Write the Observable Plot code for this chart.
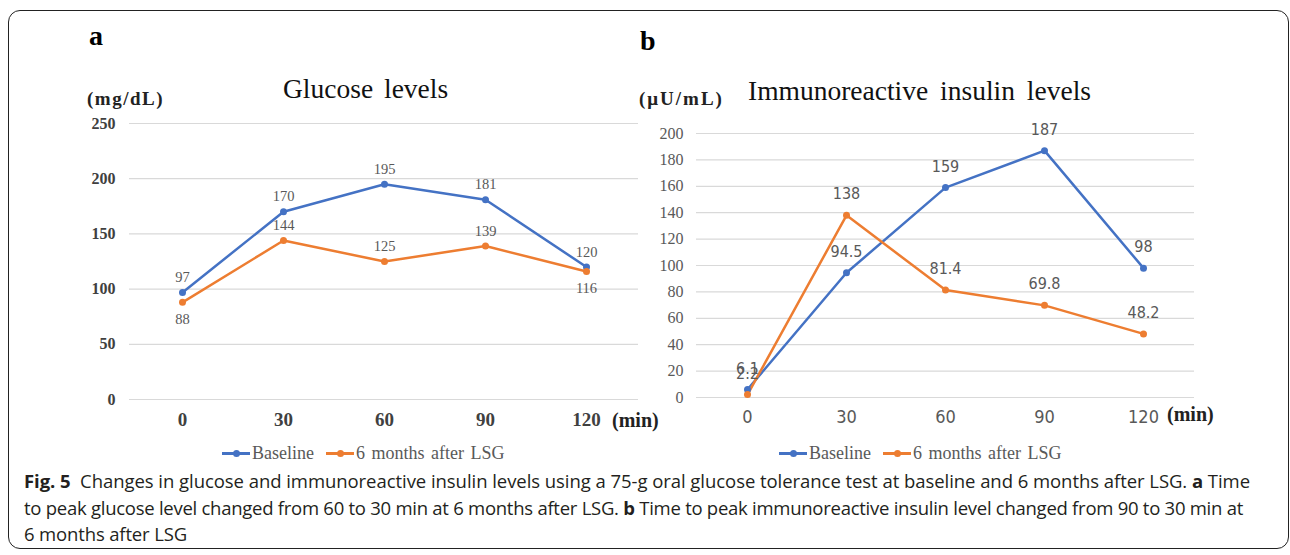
<!DOCTYPE html>
<html>
<head>
<meta charset="utf-8">
<script src="https://cdn.jsdelivr.net/npm/d3@7"></script>
<script src="https://cdn.jsdelivr.net/npm/@observablehq/plot@0.6"></script>
<style>
  body { margin:0; background:#fff; }
  #root { position:relative; width:1290px; height:555px; overflow:hidden; background:#fff; }
  .abs { position:absolute; white-space:nowrap; }
  .serif { font-family:"Liberation Serif","Times New Roman",serif; }
  .legend { display:flex; align-items:center; font-family:"Liberation Serif",serif; font-size:18px; color:#595959; }
  .sw { position:relative; display:inline-block; width:28px; height:3px; margin-right:2px; }
  .sw span { position:absolute; left:11px; top:-2px; width:7px; height:7px; border-radius:50%; }
  .cap { font-family:"Open Sans","Noto Sans",sans-serif; font-size:18.5px; color:#231f20; left:24px; line-height:24px; }
</style>
</head>
<body>
<div id="root">
  <div class="abs" style="left:8px;top:10px;width:1279px;height:537px;border:1.5px solid #222;border-radius:12px;"></div>
  <div class="abs serif" style="left:89px;top:20px;font-size:28px;font-weight:bold;">a</div>
  <div class="abs serif" style="left:640px;top:25px;font-size:28px;font-weight:bold;">b</div>
  <div class="abs serif" style="left:283px;top:73px;font-size:27.5px;word-spacing:4px;color:#111;">Glucose levels</div>
  <div class="abs serif" style="left:748px;top:75px;font-size:27.5px;word-spacing:5px;color:#111;">Immunoreactive insulin levels</div>
  <div class="abs serif" style="left:87px;top:88px;font-size:19px;font-weight:bold;letter-spacing:1.5px;color:#222;">(mg/dL)</div>
  <div class="abs serif" style="left:639px;top:88px;font-size:19px;font-weight:bold;letter-spacing:2px;color:#222;">(μU/mL)</div>
  <div class="abs serif" style="left:612px;top:409px;font-size:20px;font-weight:bold;color:#222;">(min)</div>
  <div class="abs serif" style="left:1167px;top:403px;font-size:20px;font-weight:bold;color:#222;">(min)</div>
  <div id="plotA" class="abs" style="left:0;top:100px;"></div>
  <div id="plotB" class="abs" style="left:640px;top:100px;"></div>
  <div id="legA" class="abs legend" style="left:222px;top:443px;"></div>
  <div id="legB" class="abs legend" style="left:779px;top:443px;"></div>
  <div class="abs cap" data-w="1226" style="top:469px;"><b>Fig. 5</b>&nbsp; Changes in glucose and immunoreactive insulin levels using a 75-g oral glucose tolerance test at baseline and 6 months after LSG. <b>a</b> Time</div>
  <div class="abs cap" data-w="1219" style="top:496px;">to peak glucose level changed from 60 to 30 min at 6 months after LSG. <b>b</b> Time to peak immunoreactive insulin level changed from 90 to 30 min at</div>
  <div class="abs cap" data-w="163" style="top:522px;">6 months after LSG</div>
</div>
<script>
const minutes = [0, 30, 60, 90, 120];
const seriesNames = ["Baseline", "6 months after LSG"];
const seriesColors = ["#4472C4", "#ED7D31"];
const glucoseBaseline = [97, 170, 195, 181, 120];
const glucoseAfter = [88, 144, 125, 139, 116];
const insulinBaseline = [6.1, 94.5, 159, 187, 98];
const insulinAfter = [2.2, 138, 81.4, 69.8, 48.2];
const glucoseTicks = [0, 50, 100, 150, 200, 250];
const insulinTicks = [0, 20, 40, 60, 80, 100, 120, 140, 160, 180, 200];

function rows(base, after) {
  return [
    ...minutes.map((m, i) => ({minute: m, value: base[i], series: seriesNames[0], i})),
    ...minutes.map((m, i) => ({minute: m, value: after[i], series: seriesNames[1], i}))
  ];
}
const serif = "Liberation Serif, Times New Roman, serif";
const sansNarrow = "Liberation Sans Narrow, DejaVu Sans Condensed, sans-serif";

// Panel a
const dataA = rows(glucoseBaseline, glucoseAfter);
const belowA = d => d.series === seriesNames[1] && (d.i === 0 || d.i === 4);
const plotA = Plot.plot({
  width: 665, height: 340,
  marginLeft: 129, marginRight: 27, marginTop: 23, marginBottom: 41,
  x: {type: "point", domain: minutes, padding: 0.5, axis: null},
  y: {domain: [0, 250], axis: null},
  color: {domain: seriesNames, range: seriesColors},
  style: {background: "transparent", overflow: "visible"},
  marks: [
    Plot.gridY(glucoseTicks, {stroke: "#d9d9d9", strokeOpacity: 1, strokeWidth: 1.2}),
    Plot.axisY(glucoseTicks, {tickSize: 0, tickPadding: 14, fontSize: 16, fontWeight: "bold", fontFamily: serif, fill: "#404040", label: null}),
    Plot.axisX(minutes, {tickSize: 0, tickPadding: 13, fontSize: 19, fontWeight: "bold", fontFamily: serif, fill: "#404040", label: null}),
    Plot.line(dataA, {x: "minute", y: "value", z: "series", stroke: "series", strokeWidth: 2.5}),
    Plot.dot(dataA, {x: "minute", y: "value", fill: "series", r: 3.5}),
    Plot.text(dataA.filter(d => !belowA(d)), {x: "minute", y: "value", text: d => String(d.value), dy: -15, fontSize: 14.5, fontFamily: serif, fill: "#595959"}),
    Plot.text(dataA.filter(belowA), {x: "minute", y: "value", text: d => String(d.value), dy: 17, fontSize: 14.5, fontFamily: serif, fill: "#595959"})
  ]
});
document.getElementById("plotA").appendChild(plotA);

// Panel b
const dataB = rows(insulinBaseline, insulinAfter);
const plotB = Plot.plot({
  width: 620, height: 340,
  marginLeft: 56, marginRight: 66, marginTop: 33, marginBottom: 43,
  x: {type: "point", domain: minutes, padding: 0.5, axis: null},
  y: {domain: [0, 200], axis: null},
  color: {domain: seriesNames, range: seriesColors},
  style: {background: "transparent", overflow: "visible"},
  marks: [
    Plot.gridY(insulinTicks, {stroke: "#d9d9d9", strokeOpacity: 1, strokeWidth: 1.2}),
    Plot.axisY(insulinTicks, {tickSize: 0, tickPadding: 13, fontSize: 16, fontFamily: serif, fill: "#595959", label: null}),
    Plot.axisX(minutes, {tickSize: 0, tickPadding: 13, fontSize: 18, fontFamily: sansNarrow, fill: "#595959", label: null}),
    Plot.line(dataB, {x: "minute", y: "value", z: "series", stroke: "series", strokeWidth: 2.5}),
    Plot.dot(dataB, {x: "minute", y: "value", fill: "series", r: 3.5}),
    Plot.text(dataB, {x: "minute", y: "value", text: d => String(d.value), dy: -21, fontSize: 16, fontFamily: sansNarrow, fill: "#595959"})
  ]
});
document.getElementById("plotB").appendChild(plotB);

// Legends
function legend(el) {
  seriesNames.forEach((name, k) => {
    const item = document.createElement("div");
    item.style.display = "flex";
    item.style.alignItems = "center";
    item.style.marginRight = k === 0 ? "12px" : "0";
    item.innerHTML = `<span class="sw" style="background:${seriesColors[k]}"><span style="background:${seriesColors[k]}"></span></span><span style="word-spacing:${k === 1 ? 2 : 0}px">${name}</span>`;
    el.appendChild(item);
  });
}
legend(document.getElementById("legA"));
legend(document.getElementById("legB"));

// Fit caption lines to the reference line widths
document.querySelectorAll(".cap").forEach(el => {
  const target = +el.dataset.w;
  const w = el.getBoundingClientRect().width;
  const n = el.textContent.length;
  el.style.letterSpacing = ((target - w) / n) + "px";
});
</script>
</body>
</html>
